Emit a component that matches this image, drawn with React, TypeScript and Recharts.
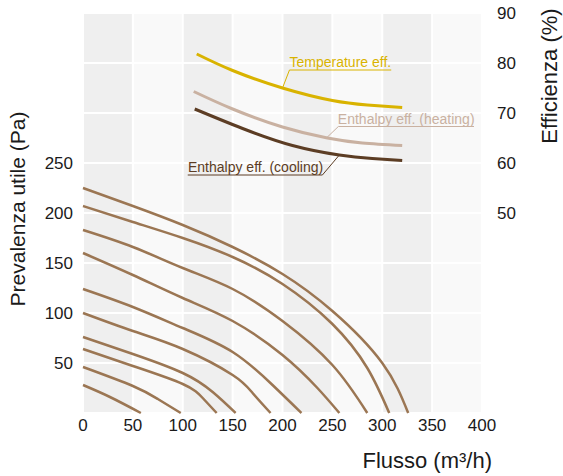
import React from "react";
import { ComposedChart, Line, XAxis, YAxis, CartesianGrid, ReferenceDot, Label } from "recharts";

type Pt = { x: number; y: number };

// axis ticks
const flowTicks = [0, 50, 100, 150, 200, 250, 300, 350, 400];
const pressureTicks = [0, 50, 100, 150, 200, 250, 300, 350, 400];
const pressureLabels = [50, 100, 150, 200, 250];
const efficiencyTicks = [50, 60, 70, 80, 90];

// fan curves (Pa over m3/h), top to bottom
const fan1: Pt[] = [
  { x: 0, y: 225 }, { x: 50, y: 207 }, { x: 100, y: 188 }, { x: 150, y: 166 }, { x: 200, y: 139 },
  { x: 250, y: 102 }, { x: 300, y: 50 }, { x: 326, y: 0 },
];
const fan2: Pt[] = [
  { x: 0, y: 207 }, { x: 50, y: 191 }, { x: 100, y: 175 }, { x: 150, y: 156 }, { x: 200, y: 129 },
  { x: 250, y: 89 }, { x: 285, y: 45 }, { x: 307, y: 0 },
];
const fan3: Pt[] = [
  { x: 0, y: 183 }, { x: 50, y: 166 }, { x: 100, y: 145 }, { x: 150, y: 124 }, { x: 200, y: 92 },
  { x: 250, y: 48 }, { x: 285, y: 0 },
];
const fan4: Pt[] = [
  { x: 0, y: 160 }, { x: 50, y: 138 }, { x: 100, y: 115 }, { x: 150, y: 92 }, { x: 200, y: 58 },
  { x: 235, y: 25 }, { x: 257, y: 0 },
];
const fan5: Pt[] = [
  { x: 0, y: 124 }, { x: 50, y: 106 }, { x: 100, y: 85 }, { x: 150, y: 61 }, { x: 190, y: 28 }, { x: 219, y: 0 },
];
const fan6: Pt[] = [
  { x: 0, y: 100 }, { x: 50, y: 82 }, { x: 100, y: 64 }, { x: 150, y: 38 }, { x: 170, y: 20 }, { x: 188, y: 0 },
];
const fan7: Pt[] = [
  { x: 0, y: 76 }, { x: 50, y: 59 }, { x: 100, y: 40 }, { x: 130, y: 21 }, { x: 153, y: 0 },
];
const fan8: Pt[] = [
  { x: 0, y: 64 }, { x: 50, y: 47 }, { x: 100, y: 29 }, { x: 120, y: 15 }, { x: 134, y: 0 },
];
const fan9: Pt[] = [
  { x: 0, y: 46 }, { x: 50, y: 27 }, { x: 75, y: 14 }, { x: 98, y: 0 },
];
const fan10: Pt[] = [
  { x: 0, y: 28 }, { x: 27, y: 16 }, { x: 58, y: 0 },
];
const fanCurves = [fan1, fan2, fan3, fan4, fan5, fan6, fan7, fan8, fan9, fan10];

// efficiency curves (% over m3/h)
const tempEff: Pt[] = [
  { x: 114, y: 81.8 }, { x: 150, y: 78.5 }, { x: 200, y: 75 }, { x: 250, y: 72.5 }, { x: 285, y: 71.6 }, { x: 320, y: 71.1 },
];
const heatEff: Pt[] = [
  { x: 111, y: 74.3 }, { x: 150, y: 70.8 }, { x: 200, y: 67.2 }, { x: 245, y: 65 }, { x: 280, y: 64 }, { x: 320, y: 63.5 },
];
const coolEff: Pt[] = [
  { x: 112, y: 70.8 }, { x: 160, y: 66.9 }, { x: 210, y: 63.5 }, { x: 257, y: 61.6 }, { x: 290, y: 60.9 }, { x: 320, y: 60.5 },
];

// annotation leaders (curve -> underline)
const tempLeader: Pt[] = [{ x: 200, y: 75 }, { x: 207, y: 78.6 }, { x: 309, y: 78.6 }];
const heatLeader: Pt[] = [{ x: 244, y: 65 }, { x: 256, y: 67.3 }, { x: 392, y: 67.3 }];
const coolLeader: Pt[] = [{ x: 105, y: 57.6 }, { x: 240, y: 57.6 }, { x: 257, y: 61.6 }];

const annotations = [
  { text: "Temperature eff.", x: 258, y: 78.6, color: "#d9b300" },
  { text: "Enthalpy eff. (heating)", x: 324, y: 67.3, color: "#c9b1a1" },
  { text: "Enthalpy eff. (cooling)", x: 173, y: 57.6, color: "#5c3d24" },
];

const FONT = "'Liberation Sans', Arial, sans-serif";
const FAN = "#9b7653";
const TEXT = "#1a1a1a";

const leftTitle = (props: any) => {
  const { viewBox } = props;
  const cx = viewBox.x + 17;
  const cy = viewBox.y + viewBox.height / 2 - 4;
  return (
    <text x={cx} y={cy} transform={`rotate(-90 ${cx} ${cy})`} textAnchor="middle" dominantBaseline="central"
      fontSize={21} fill={TEXT} fontFamily={FONT}>
      Prevalenza utile (Pa)
    </text>
  );
};

const rightTitle = (props: any) => {
  const { viewBox } = props;
  const cx = viewBox.x + 67;
  const cy = viewBox.y + 63;
  return (
    <text x={cx} y={cy} transform={`rotate(-90 ${cx} ${cy})`} textAnchor="middle" dominantBaseline="central"
      fontSize={22} fill={TEXT} fontFamily={FONT}>
      Efficienza (%)
    </text>
  );
};

const bottomTitle = (props: any) => {
  const { viewBox } = props;
  return (
    <text x={viewBox.x + viewBox.width + 10} y={viewBox.y + 47} textAnchor="end" dominantBaseline="central"
      fontSize={22} fill={TEXT} fontFamily={FONT}>
      Flusso (m³/h)
    </text>
  );
};

export default function App() {
  const tick = { fontSize: 17, fill: TEXT, fontFamily: FONT };
  return (
    <div style={{ position: "absolute", left: 0, top: 0, background: "#fff" }}>
      <ComposedChart width={563} height={476} margin={{ top: 13, right: 0, bottom: 0, left: 0 }}>
        <CartesianGrid
          yAxisId="left"
          stroke="#ffffff"
          strokeWidth={2}
          verticalFill={["#efefef", "#f9f9f9"]}
        />
        <XAxis
          type="number"
          dataKey="x"
          domain={[0, 400]}
          ticks={flowTicks}
          height={63}
          axisLine={false}
          tickLine={false}
          tickMargin={0}
          tick={tick}
          interval={0}
        >
          <Label content={bottomTitle} />
        </XAxis>
        <YAxis
          yAxisId="left"
          type="number"
          dataKey="y"
          domain={[0, 400]}
          ticks={pressureTicks}
          width={83}
          axisLine={false}
          tickLine={false}
          tickMargin={4}
          tick={tick}
          interval={0}
          tickFormatter={(v: number) => (pressureLabels.includes(v) ? String(v) : "")}
        >
          <Label content={leftTitle} />
        </YAxis>
        <YAxis
          yAxisId="right"
          orientation="right"
          type="number"
          dataKey="y"
          domain={[10, 90]}
          ticks={efficiencyTicks}
          width={81}
          axisLine={false}
          tickLine={false}
          tickMargin={9}
          tick={{ ...tick, textAnchor: "start" }}
          interval={0}
        >
          <Label content={rightTitle} />
        </YAxis>

        {fanCurves.map((d, i) => (
          <Line
            key={`fan-${i}`}
            yAxisId="left"
            data={d}
            dataKey="y"
            type="natural"
            stroke={FAN}
            strokeWidth={2.5}
            dot={false}
            activeDot={false}
            isAnimationActive={false}
          />
        ))}

        <Line yAxisId="right" data={tempEff} dataKey="y" type="natural" stroke="#d9b300" strokeWidth={3}
          dot={false} activeDot={false} isAnimationActive={false} />
        <Line yAxisId="right" data={heatEff} dataKey="y" type="natural" stroke="#c9b1a1" strokeWidth={3}
          dot={false} activeDot={false} isAnimationActive={false} />
        <Line yAxisId="right" data={coolEff} dataKey="y" type="natural" stroke="#5c3d24" strokeWidth={3}
          dot={false} activeDot={false} isAnimationActive={false} />

        <Line yAxisId="right" data={tempLeader} dataKey="y" type="linear" stroke="#d9b300" strokeWidth={1}
          dot={false} activeDot={false} isAnimationActive={false} />
        <Line yAxisId="right" data={heatLeader} dataKey="y" type="linear" stroke="#c9b1a1" strokeWidth={1}
          dot={false} activeDot={false} isAnimationActive={false} />
        <Line yAxisId="right" data={coolLeader} dataKey="y" type="linear" stroke="#5c3d24" strokeWidth={1}
          dot={false} activeDot={false} isAnimationActive={false} />

        {annotations.map((a) => (
          <ReferenceDot
            key={a.text}
            yAxisId="right"
            x={a.x}
            y={a.y}
            r={0}
            stroke="none"
            fill="none"
            label={{ value: a.text, position: "top", offset: 3, fill: a.color, fontSize: 14, fontFamily: FONT }}
          />
        ))}
      </ComposedChart>
    </div>
  );
}
